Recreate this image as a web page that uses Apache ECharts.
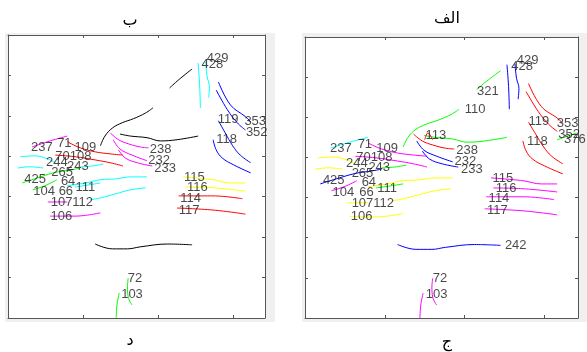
<!DOCTYPE html>
<html><head><meta charset="utf-8">
<script src="https://cdn.jsdelivr.net/npm/echarts@6/dist/echarts.min.js"></script>
<style>html,body{margin:0;padding:0;background:#fff}#c{width:587px;height:352px}</style>
</head><body><div id="c"></div>
<script>
// ---- curves (map units: x 0..3.42, y 0..7) ----
const c237 = [[0.32,4.23],[0.56,4.38],[0.79,4.50]];
const cRed1 = [[0.79,4.36],[0.96,4.21],[1.16,4.11],[1.36,4.06],[1.53,4.03]];
const cRed2 = [[0.63,4.03],[0.89,3.99],[1.16,3.91],[1.36,3.84],[1.53,3.76]];
const cLongArc = [[1.23,4.26],[1.29,4.50],[1.39,4.70],[1.52,4.83],[1.67,4.93],[1.83,5.07],[1.93,5.20]];
const cShortArc = [[2.15,5.69],[2.27,5.89],[2.45,6.16]];
const cLowerArc = [[1.49,4.55],[1.63,4.50],[1.85,4.46],[2.03,4.38],[2.25,4.41],[2.53,4.50]];
const cVert1 = [[2.53,6.31],[2.55,5.77],[2.56,5.20]];
const cVert2 = [[2.63,6.34],[2.65,5.97],[2.68,5.72],[2.67,5.45]];
const c353 = [[2.80,5.84],[2.96,5.27],[3.16,4.98],[3.23,4.85]];
const c352 = [[2.77,5.64],[2.92,5.15],[3.05,4.83],[3.16,4.65]];
const c119 = [[2.80,4.88],[2.89,4.58],[2.99,4.26],[3.09,4.03],[3.23,3.84]];
const c118 = [[2.73,4.41],[2.77,4.16],[2.85,3.96],[3.00,3.79],[3.23,3.59]];
const c238 = [[1.36,4.58],[1.47,4.41],[1.60,4.31],[1.76,4.23],[1.87,4.21]];
const c232 = [[1.40,4.41],[1.49,4.18],[1.65,4.03],[1.85,3.89]];
const c233 = [[1.47,4.16],[1.56,3.96],[1.72,3.84],[1.92,3.76]];
const cMid3 = [[0.79,3.27],[1.03,3.34],[1.23,3.42],[1.43,3.44],[1.63,3.49],[1.85,3.49]];
const cMid4 = [[1.09,2.92],[1.23,2.97],[1.43,3.07],[1.63,3.17],[1.83,3.22]];
const cLeft1 = [[0.16,3.99],[0.36,4.01],[0.52,3.94],[0.63,3.84]];
const cLeft2 = [[0.13,3.71],[0.29,3.74],[0.47,3.71]];
const c243 = [[0.96,3.74],[1.12,3.76],[1.27,3.81]];
const c425 = [[0.19,3.34],[0.43,3.49],[0.65,3.61],[0.83,3.66],[0.96,3.71]];
const c104 = [[0.33,3.17],[0.49,3.27],[0.65,3.42]];
const c107 = [[0.53,2.87],[0.79,2.87]];
const c106 = [[0.56,2.52],[0.89,2.52],[1.23,2.60]];
const c111 = [[0.89,3.24],[1.07,3.29],[1.23,3.34]];
const c115 = [[2.33,3.49],[2.73,3.42],[2.96,3.34],[3.16,3.34]];
const c116 = [[2.36,3.24],[2.73,3.22],[3.16,3.14]];
const c114 = [[2.27,3.02],[2.73,3.02],[3.12,2.95]];
const c117 = [[2.25,2.72],[2.73,2.67],[3.16,2.57]];
const cBottom = [[1.16,1.83],[1.39,1.71],[1.59,1.71],[1.76,1.76],[2.12,1.83],[2.45,1.81]];
const c72 = [[1.60,0.99],[1.59,0.77],[1.60,0.52],[1.65,0.32]];
const c103 = [[1.48,0.62],[1.45,0.32],[1.44,0.00]];
const c376 = [[3.16,4.44],[3.40,4.61]];
const c113s = [[1.50,4.44],[1.54,4.61],[1.60,4.44]];

const curveList = [c237,cRed1,cRed2,cLongArc,cShortArc,cLowerArc,cVert1,cVert2,c353,c352,c119,c118,
  c238,c232,c233,cMid3,cMid4,cLeft1,cLeft2,c243,c425,c104,c107,c106,c111,c115,c116,c114,c117,
  cBottom,c72,c103,c376,c113s];

// ---- labels ----
const labelText = ['429','428','353','352','119','118','238','232','233','115','116','114','117',
  '237','71','109','70108','244','243','265','425','64','104','66','111','107112','106','72','103'];
const labelX = [2.79,2.72,3.29,3.31,2.93,2.91,2.03,2.01,2.09,2.48,2.52,2.43,2.41,
  0.45,0.75,1.03,0.87,0.65,0.93,0.72,0.36,0.80,0.48,0.77,1.03,0.85,0.71,1.69,1.65];
const labelY = [6.41,6.26,4.85,4.58,4.90,4.41,4.18,3.91,3.71,3.47,3.22,2.97,2.67,
  4.23,4.33,4.23,3.99,3.84,3.74,3.61,3.42,3.37,3.12,3.12,3.22,2.85,2.52,0.99,0.59];
const extraText = ['321','110','113','376','242'];
const extraX = [2.29,2.13,1.64,3.38,2.64];
const extraY = [5.64,5.19,4.54,4.44,1.80];

// ---- styling ----
const M='#ff00ff',C='#00ffff',R='#ff0000',B='#0000ff',G='#00ff00',Y='#ffff00',K='#000000';
const colorsB = [M,R,R,K,K,K,C,C,B,B,B,B,M,M,M,C,C,C,C,C,G,G,M,M,C,Y,Y,R,R,K,G,G,null,null];
const colorsA = [C,M,M,G,G,G,B,B,R,R,R,R,R,B,B,Y,Y,Y,Y,G,B,M,Y,Y,G,M,M,M,M,B,M,M,G,R];

const chart = echarts.init(document.getElementById('c'));
const grids = [
  {left:8, top:35, width:257, height:283},
  {left:305, top:37, width:273, height:281}
];
const xAxis=[], yAxis=[], series=[];
const axisCommon = {type:'value', min:0, interval:1, axisLabel:{show:false}, splitLine:{show:false},
  axisLine:{show:true,onZero:false,lineStyle:{color:'#555',width:1}},
  axisTick:{show:true,inside:true,length:3,lineStyle:{color:'#555'}}};
grids.forEach((g,i)=>{
  xAxis.push(Object.assign({},axisCommon,{gridIndex:i,position:'bottom',max:3.42}));
  xAxis.push(Object.assign({},axisCommon,{gridIndex:i,position:'top',max:3.42}));
  yAxis.push(Object.assign({},axisCommon,{gridIndex:i,position:'left',max:7}));
  yAxis.push(Object.assign({},axisCommon,{gridIndex:i,position:'right',max:7}));
});
[colorsB, colorsA].forEach((cols,p)=>{
  curveList.forEach((d,k)=>{
    if(!cols[k]) return;
    series.push({type:'line', xAxisIndex:2*p, yAxisIndex:2*p, data:d, smooth:0.4, symbol:'none',
      lineStyle:{color:cols[k], width:1}, silent:true, z:2});
  });
  const pts = labelText.map((t,k)=>({name:t, value:[labelX[k],labelY[k]]}));
  if(p===1) extraText.forEach((t,k)=>pts.push({name:t, value:[extraX[k],extraY[k]]}));
  series.push({type:'scatter', xAxisIndex:2*p, yAxisIndex:2*p, data:pts, symbolSize:1, clip:false,
    itemStyle:{color:'transparent'}, silent:true, z:5,
    label:{show:true, position:'inside', formatter:'{b}', color:'#1a1a1a', fontSize:13,
      fontFamily:'Liberation Sans, Arial, sans-serif'}});
});
chart.setOption({
  animation:false,
  grid:grids,
  xAxis:xAxis, yAxis:yAxis, series:series,
  graphic:[
    {type:'rect', shape:{x:5,y:33,width:270,height:289}, style:{fill:'#f0f0f0'}, z:-10, silent:true},
    {type:'rect', shape:{x:302,y:33,width:285,height:289}, style:{fill:'#f0f0f0'}, z:-10, silent:true},
    {type:'rect', shape:{x:8,y:35,width:257,height:283}, style:{fill:'#ffffff'}, z:-9, silent:true},
    {type:'rect', shape:{x:305,y:37,width:273,height:281}, style:{fill:'#ffffff'}, z:-9, silent:true},
    {type:'text', x:130, y:21, style:{text:'ب', fill:'#000', font:'16px DejaVu Sans', textAlign:'center', textVerticalAlign:'middle'}},
    {type:'text', x:447, y:19, style:{text:'الف', fill:'#000', font:'16px DejaVu Sans', textAlign:'center', textVerticalAlign:'middle'}},
    {type:'text', x:130, y:341, style:{text:'د', fill:'#000', font:'16px DejaVu Sans', textAlign:'center', textVerticalAlign:'middle'}},
    {type:'text', x:447, y:343, style:{text:'ج', fill:'#000', font:'16px DejaVu Sans', textAlign:'center', textVerticalAlign:'middle'}}
  ]
});
</script></body></html>
